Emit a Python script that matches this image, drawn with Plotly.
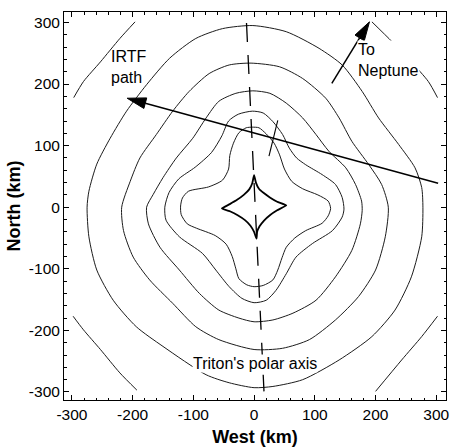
import math
import plotly.graph_objects as go

# ---------------- data (km) ----------------
C1_x = [-3, 8, 20, 33, 42, 50, 62, 80, 105, 122, 126, 122, 112, 85, 67, 53, 46, 39, 31, 15, 0, -12, -25, -30, -36, -46, -64, -95, -110, -120, -121, -118, -108, -75, -52, -42, -40, -34, -25, -13, -3]
C1_y = [130, 129, 119, 104, 85, 62, 42, 30, 20, 10, -2, -14, -26, -38, -50, -65, -82, -102, -118, -127, -129, -126, -116, -100, -80, -60, -46, -34, -27, -12, 2, 15, 26, 33, 44, 62, 84, 104, 121, 129, 130]

C2_x = [-3, 15, 31, 47, 58, 70, 85, 112, 134, 145, 148, 145, 129, 96, 69, 53, 36, 20, 0, -20, -41, -63, -85, -123, -145, -147, -140, -124, -97, -70, -53, -42, -26, -3]
C2_y = [156, 153, 139, 118, 96, 80, 69, 53, 37, 16, -3, -16, -38, -59, -81, -108, -135, -151, -155, -148, -129, -102, -75, -48, -21, 0, 24, 46, 65, 89, 116, 140, 151, 156]

C3_x = [-2, 26, 53, 80, 102, 123, 151, 167, 177, 178, 175, 161, 134, 102, 64, 31, 0, -25, -58, -90, -123, -155, -174, -177, -166, -150, -128, -101, -79, -58, -30, -2]
C3_y = [189, 185, 169, 145, 118, 91, 64, 37, 10, -5, -27, -70, -113, -151, -172, -183, -186, -180, -167, -140, -102, -65, -27, 0, 21, 48, 80, 112, 145, 172, 185, 189]

C4_x = [-5, 42, 80, 118, 140, 161, 189, 210, 221, 216, 200, 172, 134, 91, 47, 0, -58, -96, -134, -172, -199, -215, -218, -204, -188, -161, -134, -107, -74, -41, -5]
C4_y = [234, 228, 209, 177, 145, 107, 69, 37, 0, -48, -102, -145, -183, -215, -229, -231, -215, -194, -156, -118, -81, -38, 0, 42, 80, 118, 156, 188, 217, 231, 234]

C5_x = [-2, 53, 107, 145, 178, 205, 238, 265, 276, 278, 276, 259, 232, 194, 140, 80, 31, 0, -41, -79, -150, -194, -232, -259, -272, -275, -272, -259, -237, -210, -177, -139, -96, -52, -2]
C5_y = [295, 285, 258, 231, 188, 145, 102, 64, 32, 0, -48, -113, -167, -210, -248, -280, -291, -293, -285, -272, -226, -194, -151, -102, -48, 0, 26, 70, 112, 156, 199, 242, 274, 290, 295]

TL_x = [-196, -221, -253, -281, -297]
TL_y = [301, 274, 236, 204, 178]
TR_x = [194, 227, 259, 287, 302]
TR_y = [301, 269, 236, 204, 178]
BL_x = [-298, -281, -253, -221, -193]
BL_y = [-177, -199, -231, -269, -297]
BR_x = [302, 276, 243, 200]
BR_y = [-177, -210, -248, -299]

CAUSTIC_x = [0, 3, 8, 16, 26, 38, 53, 38, 26, 16, 9, 5, 4, 0, -6, -15, -27, -39, -53, -40, -28, -17, -8, -3, 0]
CAUSTIC_y = [52, 40, 30, 23, 16, 9, 3, -5, -13, -22, -31, -40, -51, -40, -30, -21, -13, -7, -2, 5, 12, 20, 29, 39, 52]

POLAR_x = [-12.5, 16.3]
POLAR_y = [299, -299]
TICKMARK_x = [39, 24.5]
TICKMARK_y = [141, 83]

IRTF_tail = (303, 39)
IRTF_tip = (-209, 177)
NEP_tail = (128, 201)
NEP_tip = (190, 301)

XRANGE = [-313, 316]
YRANGE = [-313, 317]
TICKS = [-300, -200, -100, 0, 100, 200, 300]
TICK_TEXT = ["-300", "-200", "-100", "0", "100", "200", "300"]

# ---------------- figure ----------------
W, H = 453, 447
ML, MR, MT, MB = 64, 3, 12, 45
PW, PH = W - ML - MR, H - MT - MB
SX = PW / (XRANGE[1] - XRANGE[0])
SY = PH / (YRANGE[1] - YRANGE[0])

LINE = "#1c1c1c"
fig = go.Figure()

for xs, ys in [(C1_x, C1_y), (C2_x, C2_y), (C3_x, C3_y), (C4_x, C4_y), (C5_x, C5_y),
               (TL_x, TL_y), (TR_x, TR_y), (BL_x, BL_y), (BR_x, BR_y)]:
    fig.add_trace(go.Scatter(x=xs, y=ys, mode="lines",
                             line=dict(color=LINE, width=1, shape="spline", smoothing=0.7),
                             hoverinfo="skip", showlegend=False))

fig.add_trace(go.Scatter(x=CAUSTIC_x, y=CAUSTIC_y, mode="lines",
                         line=dict(color="black", width=1.8, shape="spline", smoothing=0.4),
                         hoverinfo="skip", showlegend=False))

fig.add_trace(go.Scatter(x=POLAR_x, y=POLAR_y, mode="lines",
                         line=dict(color="black", width=1.3, dash="19px,13px"),
                         hoverinfo="skip", showlegend=False))
fig.add_trace(go.Scatter(x=TICKMARK_x, y=TICKMARK_y, mode="lines",
                         line=dict(color="black", width=1.1),
                         hoverinfo="skip", showlegend=False))


def add_arrow(tail, tip, head_len=19.0, half_w=5.5, width=1.5):
    dx = (tip[0] - tail[0]) * SX
    dy = (tip[1] - tail[1]) * SY
    L = math.hypot(dx, dy)
    ux, uy = dx / L, dy / L
    nx, ny = -uy, ux
    bx = tip[0] - ux * head_len / SX
    by = tip[1] - uy * head_len / SY
    fig.add_trace(go.Scatter(x=[tail[0], bx], y=[tail[1], by], mode="lines",
                             line=dict(color="black", width=width),
                             hoverinfo="skip", showlegend=False))
    hx = [tip[0], bx + nx * half_w / SX, bx - nx * half_w / SX, tip[0]]
    hy = [tip[1], by + ny * half_w / SY, by - ny * half_w / SY, tip[1]]
    fig.add_trace(go.Scatter(x=hx, y=hy, mode="lines", fill="toself", fillcolor="black",
                             line=dict(color="black", width=1),
                             hoverinfo="skip", showlegend=False))


add_arrow(IRTF_tail, IRTF_tip)
add_arrow(NEP_tail, NEP_tip)

FONT = "Liberation Sans, Arial, Helvetica, sans-serif"
TF = dict(family=FONT, size=16, color="black")


def label(text, x, y, xanchor="left", bg=None):
    fig.add_annotation(x=x, y=y, text=text, showarrow=False, xanchor=xanchor, yanchor="middle",
                       align="left" if xanchor == "left" else "center",
                       font=TF, bgcolor=bg if bg else "rgba(0,0,0,0)", borderpad=0)


label("IRTF<br>path", -238, 228)
label("To<br>Neptune", 170, 239, bg="white")
label("Triton's polar axis", 1, -253, xanchor="center", bg="white")

axis_common = dict(
    showgrid=False, zeroline=False, showline=True, linecolor="black", linewidth=1,
    mirror="ticks", ticks="inside", ticklen=5, tickwidth=1, tickcolor="black",
    tickvals=TICKS, ticktext=TICK_TEXT,
    tickfont=dict(family=FONT, size=15.5, color="black"),
    minor=dict(dtick=20, ticks="inside", ticklen=2.5, tickcolor="black", tickwidth=1),
)

fig.update_layout(
    width=W, height=H,
    margin=dict(l=ML, r=MR, t=MT, b=MB),
    paper_bgcolor="white", plot_bgcolor="white",
    showlegend=False,
    xaxis=dict(range=XRANGE, title=dict(text="<b>West (km)</b>", font=dict(family=FONT, size=18, color="black"), standoff=9),
               **axis_common),
    yaxis=dict(range=YRANGE, title=dict(text="<b>North (km)</b>", font=dict(family=FONT, size=18, color="black"), standoff=3),
               **axis_common),
)

fig.write_html("out.html")
